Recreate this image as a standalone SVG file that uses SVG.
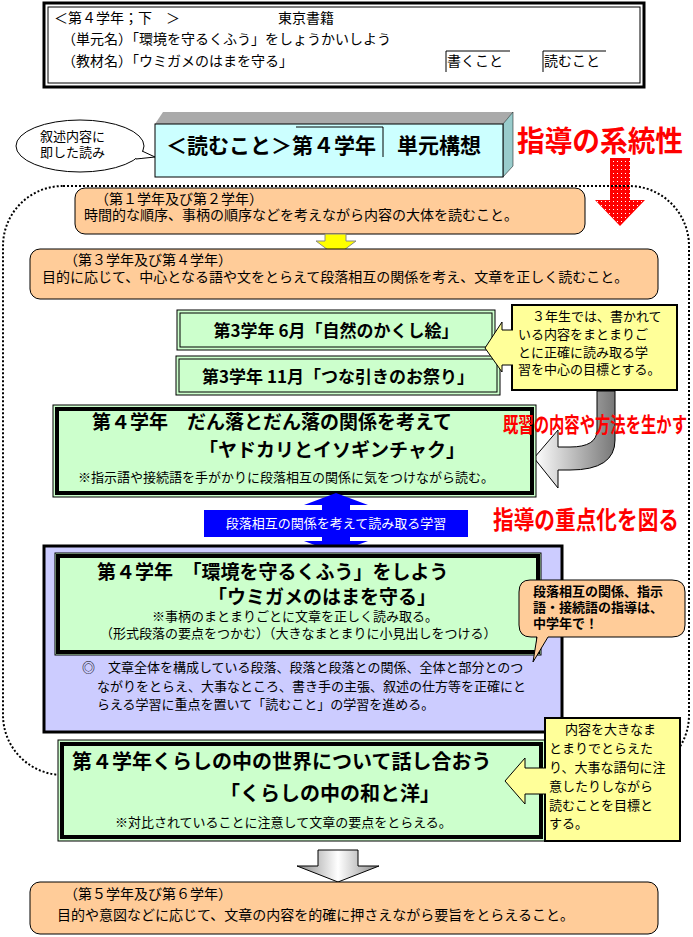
<svg xmlns="http://www.w3.org/2000/svg" width="693" height="937" viewBox="0 0 693 937">
<defs>
<style>
text{font-family:"Noto Sans CJK JP","Noto Sans CJK SC",sans-serif;fill:#000}
.n{font-size:14px}
.s{font-size:13px}
.b{font-weight:bold}
.org{fill:#ffcc99;stroke:#000;stroke-width:1}
.yel{fill:#ffff99;stroke:#000;stroke-width:2}
.red{fill:#ff0000;font-weight:bold}
</style>
<pattern id="dots" width="4" height="4" patternUnits="userSpaceOnUse"><rect width="4" height="4" fill="#ff0000"/><rect x="1" y="1" width="1" height="1" fill="#fff"/></pattern>
<linearGradient id="gr" x1="0" x2="1"><stop offset="0" stop-color="#fff"/><stop offset="1" stop-color="#777"/></linearGradient>
<linearGradient id="gd" x1="0" x2="1"><stop offset="0" stop-color="#888"/><stop offset=".5" stop-color="#fff"/><stop offset="1" stop-color="#888"/></linearGradient>
</defs>
<rect width="693" height="937" fill="#fff"/>
<g id="header">
<rect x="44" y="3" width="600" height="84" fill="#fff" stroke="#000" stroke-width="3"/>
<rect x="48" y="7" width="592" height="76" fill="none" stroke="#000" stroke-width="1"/>
<text x="54" y="23" class="n">＜第４学年；下　＞</text>
<text x="278" y="23" class="n">東京書籍</text>
<text x="62" y="44" class="n">（単元名）「環境を守るくふう」をしょうかいしよう</text>
<text x="62" y="66" class="n">（教材名）「ウミガメのはまを守る」</text>
<path d="M446 72V51H510M543 72V51H606" fill="none" stroke="#000"/>
<text x="447" y="66" class="n">書くこと</text>
<text x="544" y="66" class="n">読むこと</text>
</g>
<g id="callout">
<ellipse cx="80" cy="146" rx="64" ry="26" fill="#fff" stroke="#000"/>
<path d="M136 159L155 157L142 151" fill="#fff" stroke="#000"/>
<rect x="134" y="151" width="8" height="7" fill="#fff"/>
<text x="40" y="141" class="s">叙述内容に</text>
<text x="40" y="157" class="s">即した読み</text>
</g>
<g id="title">
<path d="M155 124 L163 112 H513 L503 124 Z" fill="#aaa"/>
<path d="M503 124 L513 112 V166 L503 177 Z" fill="#9cc" stroke="#000" stroke-width=".5"/>
<rect x="155" y="124" width="348" height="53" fill="#ccffff" stroke="#000"/>
<path d="M296 127H383V157" fill="none" stroke="#000"/>
<text x="166" y="153" font-size="21" class="b">＜読むこと＞第４学年　単元構想</text>
</g>
<text x="517" y="152" font-size="29" class="red" textLength="166" lengthAdjust="spacingAndGlyphs">指導の系統性</text>
<path d="M610 158H630V200H645L620 226L595 200H610Z" fill="url(#dots)"/>
<rect x="3" y="186" width="686" height="589" rx="60" fill="none" stroke="#000" stroke-width="2" stroke-dasharray="2 2"/>
<g id="g12">
<rect x="75" y="188" width="510" height="46" rx="10" class="org"/>
<text x="95" y="204" class="n">（第１学年及び第２学年）</text>
<text x="84" y="220" class="n">時間的な順序、事柄の順序などを考えながら内容の大体を読むこと。</text>
</g>
<path d="M325 234H346V241H356L336 256L316 241H325Z" fill="#ffff00" stroke="#888"/>
<g id="g34">
<rect x="30" y="249" width="628" height="50" rx="10" class="org"/>
<text x="64" y="265" class="n">（第３学年及び第４学年）</text>
<text x="42" y="282" class="n">目的に応じて、中心となる語や文をとらえて段落相互の関係を考え、文章を正しく読むこと。</text>
</g>
<g id="g3a">
<rect x="177" y="310" width="318" height="40" fill="#ccffcc" stroke="#000"/>
<rect x="180" y="313" width="312" height="34" fill="none" stroke="#000"/>
<text x="336" y="337" text-anchor="middle" font-size="17" class="b">第3学年  6月「自然のかくし絵」</text>
</g>
<g id="g3b">
<rect x="176" y="356" width="324" height="39" fill="#ccffcc" stroke="#000"/>
<rect x="179" y="359" width="318" height="33" fill="none" stroke="#000"/>
<text x="338" y="383" text-anchor="middle" font-size="17" class="b">第3学年 11月「つな引きのお祭り」</text>
</g>
<g id="note1">
<rect x="512" y="305" width="165" height="85" class="yel"/>
<path d="M513 330H502V322L485 348L502 372V365H513" fill="#ffff99" stroke="#000"/>
<text class="s"><tspan x="532" y="321">３年生では、書かれて</tspan><tspan x="518" y="339">いる内容をまとまりご</tspan><tspan x="518" y="357">とに正確に読み取る学</tspan><tspan x="518" y="374">習を中心の目標とする。</tspan></text>
</g>
<path d="M597 391H615V440Q615 470 570 470H558V488L534 458L558 430V447H570Q597 447 597 430Z" fill="url(#gr)" stroke="#000"/>
<g id="g4a">
<rect x="53" y="405" width="483" height="92" fill="#ccffcc" stroke="#000"/>
<rect x="57" y="409" width="475" height="84" fill="none" stroke="#000" stroke-width="4"/>
<text x="92" y="429" font-size="19" class="b">第４学年　だん落とだん落の関係を考えて</text>
<text x="332" y="457" text-anchor="middle" font-size="19" class="b">「ヤドカリとイソギンチャク」</text>
<text x="78" y="482" class="s">※指示語や接続語を手がかりに段落相互の関係に気をつけながら読む。</text>
</g>
<text x="503" y="432" font-size="21" class="red" textLength="184" lengthAdjust="spacingAndGlyphs">既習の内容や方法を生かす</text>
<path d="M336 493L368 505H350V541H368L336 553L304 541H322V505H304Z" fill="#0000ff"/>
<g id="blue">
<rect x="204" y="510" width="264" height="27" fill="#0000ff"/>
<text x="336" y="528" text-anchor="middle" class="s" style="fill:#fff">段落相互の関係を考えて読み取る学習</text>
</g>
<text x="493" y="529" font-size="25" class="red" textLength="186" lengthAdjust="spacingAndGlyphs">指導の重点化を図る</text>
<g id="g4b">
<rect x="44" y="546" width="518" height="186" fill="#ccccff" stroke="#000" stroke-width="3"/>
<rect x="55" y="553" width="486" height="102" fill="#ccffcc" stroke="#000"/>
<rect x="58" y="556" width="480" height="96" fill="none" stroke="#000" stroke-width="4"/>
<text x="97" y="579" font-size="19" class="b">第４学年　「環境を守るくふう」をしよう</text>
<text x="208" y="604" font-size="19" class="b">「ウミガメのはまを守る」</text>
<text x="152" y="621" class="s">※事柄のまとまりごとに文章を正しく読み取る。</text>
<text x="100" y="638" class="s">（形式段落の要点をつかむ）（大きなまとまりに小見出しをつける）</text>
<text class="s"><tspan x="82" y="672">◎　文章全体を構成している段落、段落と段落との関係、全体と部分とのつ</tspan><tspan x="97" y="691">ながりをとらえ、大事なところ、書き手の主張、叙述の仕方等を正確にと</tspan><tspan x="97" y="709">らえる学習に重点を置いて「読むこと」の学習を進める。</tspan></text>
</g>
<g id="note2">
<path d="M530 580H672Q685 580 685 592V625Q685 637 672 637H548L533 662L537 637H531Q519 637 519 625V592Q519 580 530 580Z" fill="#ffcc99" stroke="#000"/>
<text class="s b"><tspan x="533" y="596">段落相互の関係、指示</tspan><tspan x="533" y="612">語・接続語の指導は、</tspan><tspan x="533" y="628">中学年で！</tspan></text>
</g>
<g id="g4c">
<rect x="58" y="740" width="487" height="101" fill="#ccffcc" stroke="#000"/>
<rect x="62" y="744" width="479" height="93" fill="none" stroke="#000" stroke-width="4"/>
<text x="72" y="769" font-size="20" class="b">第４学年くらしの中の世界について話し合おう</text>
<text x="220" y="801" font-size="20" class="b">「くらしの中の和と洋」</text>
<text x="115" y="827" class="s">※対比されていることに注意して文章の要点をとらえる。</text>
</g>
<g id="note3">
<rect x="545" y="718" width="135" height="123" class="yel"/>
<path d="M546 768H525V758L505 781L525 804V794H546" fill="#ffff99" stroke="#000"/>
<text class="s"><tspan x="565" y="734">内容を大きなま</tspan><tspan x="549" y="753">とまりでとらえた</tspan><tspan x="549" y="772">り、大事な語句に注</tspan><tspan x="549" y="791">意したりしながら</tspan><tspan x="549" y="810">読むことを目標と</tspan><tspan x="549" y="828">する。</tspan></text>
</g>
<path d="M318 850H358V866H379L338 882L297 866H318Z" fill="url(#gd)" stroke="#000"/>
<g id="g56">
<rect x="30" y="882" width="628" height="52" rx="10" class="org"/>
<text x="64" y="899" class="n">（第５学年及び第６学年）</text>
<text x="57" y="920" class="n">目的や意図などに応じて、文章の内容を的確に押さえながら要旨をとらえること。</text>
</g>
</svg>
